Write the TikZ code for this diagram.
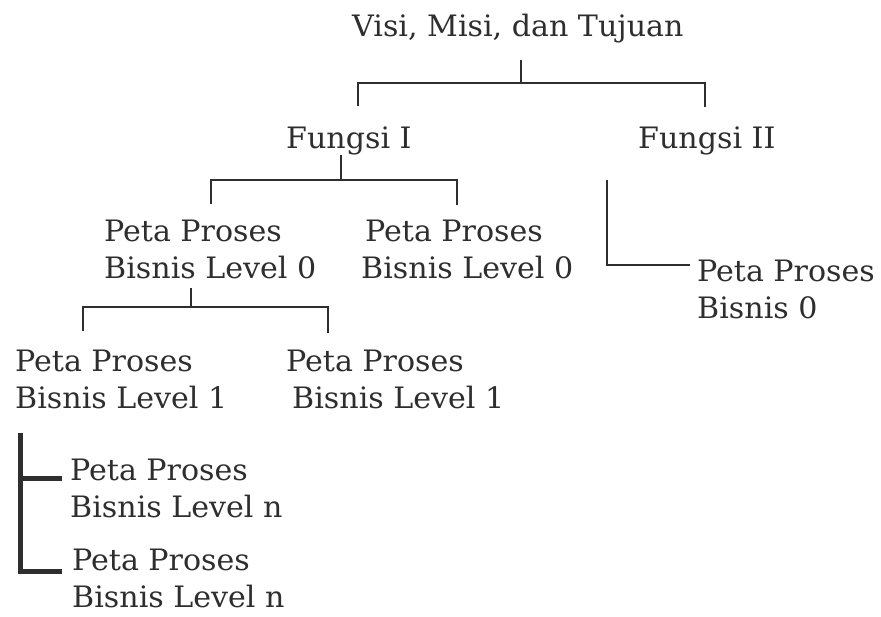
\documentclass[tikz,border=0pt]{standalone}
\usepackage{fontspec}
\setmainfont[FakeStretch=1.02]{DejaVu Serif}
\definecolor{ink}{HTML}{2E2E2E}
\tikzset{
  lbl/.style={anchor=north west, inner sep=0pt, align=left, text=ink,
    font=\fontsize{29.5}{36.6}\selectfont},
  one/.style={anchor=base west, inner sep=0pt, text=ink,
    font=\fontsize{29.5}{36.6}\selectfont},
  thin/.style={draw=ink, line width=1.8pt},
  thick/.style={draw=ink, line width=5pt}
}
\begin{document}
\begin{tikzpicture}[x=1pt,y=-1pt]
\useasboundingbox (0,0) rectangle (881,616);
% texts
\node[one] (visi) at (352,36.7) {Visi, Misi, dan Tujuan};
\node[one] (f1) at (286,148.5) {Fungsi I};
\node[one] (f2) at (638,148.5) {Fungsi II};
\node[lbl] (p0a) at (104,220) {Peta Proses\\Bisnis Level 0};
\node[lbl] (p0b) at (361,220) {\hspace*{4pt}Peta Proses\\Bisnis Level 0};
\node[lbl] (p1a) at (15,350) {Peta Proses\\Bisnis Level 1};
\node[lbl] (p1b) at (286,350) {Peta Proses\\\hspace*{6pt}Bisnis Level 1};
\node[lbl] (pb0) at (697,260) {Peta Proses\\Bisnis 0};
\node[lbl] (pna) at (70,459) {Peta Proses\\Bisnis Level n};
\node[lbl] (pnb) at (72,549) {Peta Proses\\Bisnis Level n};
% connector points
\coordinate (vt) at (521,60);
\coordinate (vb) at (521,83);
\coordinate (vl) at (358,83);
\coordinate (vld) at (358,106);
\coordinate (vr) at (705,83);
\coordinate (vrd) at (705,107);
\coordinate (ft) at (341,155);
\coordinate (fb) at (341,180);
\coordinate (fl) at (211,180);
\coordinate (fld) at (211,204);
\coordinate (fr) at (457,180);
\coordinate (frd) at (457,205);
\coordinate (gt) at (607,180);
\coordinate (gc) at (607,265);
\coordinate (ge) at (690,265);
\coordinate (lt) at (191,288);
\coordinate (lb) at (191,307);
\coordinate (ll) at (83,307);
\coordinate (lld) at (83,331);
\coordinate (lr) at (328,307);
\coordinate (lrd) at (328,333);
\coordinate (nt) at (20,433);
\coordinate (n1) at (20,478);
\coordinate (n1e) at (62,478);
\coordinate (n2) at (20,571);
\coordinate (n2e) at (62,571);
% connectors
\draw[thin] (vt) -- (vb);
\draw[thin] (vld) -- (vl) -- (vr) -- (vrd);
\draw[thin] (ft) -- (fb);
\draw[thin] (fld) -- (fl) -- (fr) -- (frd);
\draw[thin] (gt) -- (gc) -- (ge);
\draw[thin] (lt) -- (lb);
\draw[thin] (lld) -- (ll) -- (lr) -- (lrd);
\draw[thick] (nt) -- (n2) -- (n2e);
\draw[thick] (n1) -- (n1e);
\end{tikzpicture}
\end{document}
